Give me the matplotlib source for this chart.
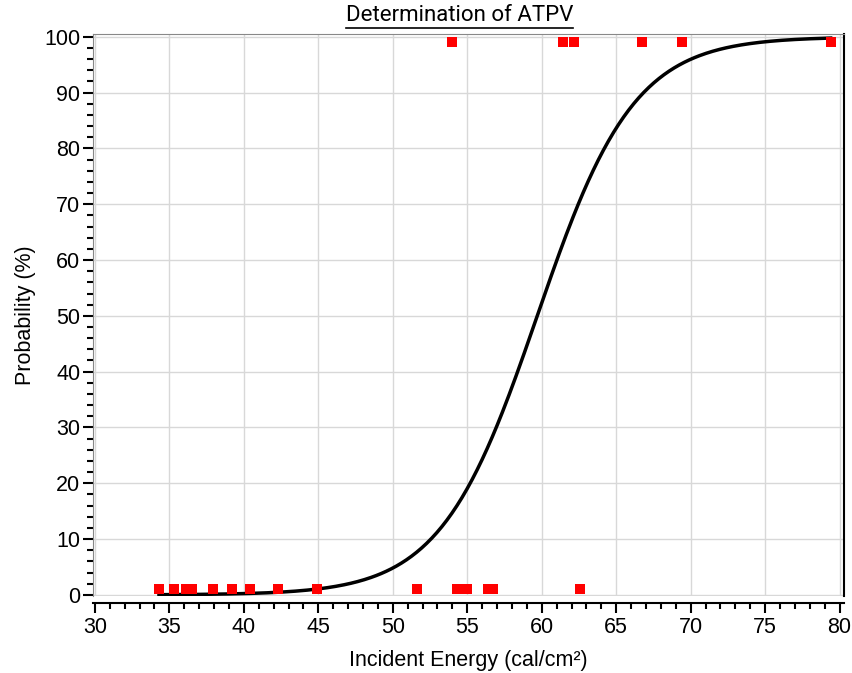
import numpy as np
import matplotlib.pyplot as plt
from matplotlib.ticker import MultipleLocator

# incident energy of the test shots (cal/cm²) and their outcome
energy_no_break = [34.3, 35.3, 36.1, 36.5, 37.9, 39.2, 40.4, 42.3, 44.9,
                   51.6, 54.3, 54.7, 55.0, 56.4, 56.7, 62.6]
energy_break = [54.0, 61.4, 62.2, 66.7, 69.4, 79.4]
# outcomes shown at 1 % and 99 %
no_break_level = 1
break_level = 99

# logistic fit: 50 % point (ATPV) and scale
atpv = 59.7
scale = 3.25
curve_range = [34.3, 79.4]

plt.rcParams['font.family'] = ['Liberation Sans', 'DejaVu Sans']

fig = plt.figure(figsize=(8.53, 6.73), dpi=100)
ax = fig.add_axes([0.109, 0.1144, 0.880, 0.8351])

x = np.linspace(curve_range[0], curve_range[1], 400)
p = 100 / (1 + np.exp(-(x - atpv) / scale))
ax.plot(x, p, color='black', lw=2.5, zorder=3)

ax.plot(energy_no_break, [no_break_level] * len(energy_no_break), 's',
        color='#ff0000', ms=7.0, mew=0, zorder=4, clip_on=False)
ax.plot(energy_break, [break_level] * len(energy_break), 's',
        color='#ff0000', ms=7.0, mew=0, zorder=4, clip_on=False)

ax.set_xlim(29.87, 80.27)
ax.set_ylim(-0.2, 100.5)
ax.xaxis.set_major_locator(MultipleLocator(5))
ax.xaxis.set_minor_locator(MultipleLocator(1))
ax.yaxis.set_major_locator(MultipleLocator(10))
ax.yaxis.set_minor_locator(MultipleLocator(2))
ax.grid(True, which='major', color='#d8d8d8', lw=1)
ax.set_axisbelow(True)

ax.spines['left'].set_color('#888888')
ax.spines['top'].set_color('#888888')
ax.spines['right'].set_color('black')
ax.spines['right'].set_linewidth(1.5)
ax.spines['bottom'].set_position(('outward', 5))
ax.spines['bottom'].set_linewidth(1.5)

ax.tick_params(axis='both', which='major', labelsize=15.5, length=7, width=1.5, direction='out')
ax.tick_params(axis='both', which='minor', length=4, width=1.5, direction='out')
ax.tick_params(axis='y', which='both', pad=2)
ax.tick_params(axis='x', which='both', pad=3)

ax.set_xlabel('Incident Energy (cal/cm²)', fontsize=15.5, labelpad=9)
ax.set_ylabel('Probability (%)', fontsize=15.5, labelpad=6)

title = fig.text(0.539, 0.962, 'Determination of ATPV', ha='center', va='bottom',
                 fontsize=16, family=['Liberation Sans Narrow', 'Roboto'])
fig.canvas.draw()
bb = title.get_window_extent().transformed(fig.transFigure.inverted())
fig.add_artist(plt.Line2D([bb.x0, bb.x1], [bb.y0 - 0.003, bb.y0 - 0.003],
                          transform=fig.transFigure, color='black', lw=1.2))

fig.savefig('out.png', dpi=100)
